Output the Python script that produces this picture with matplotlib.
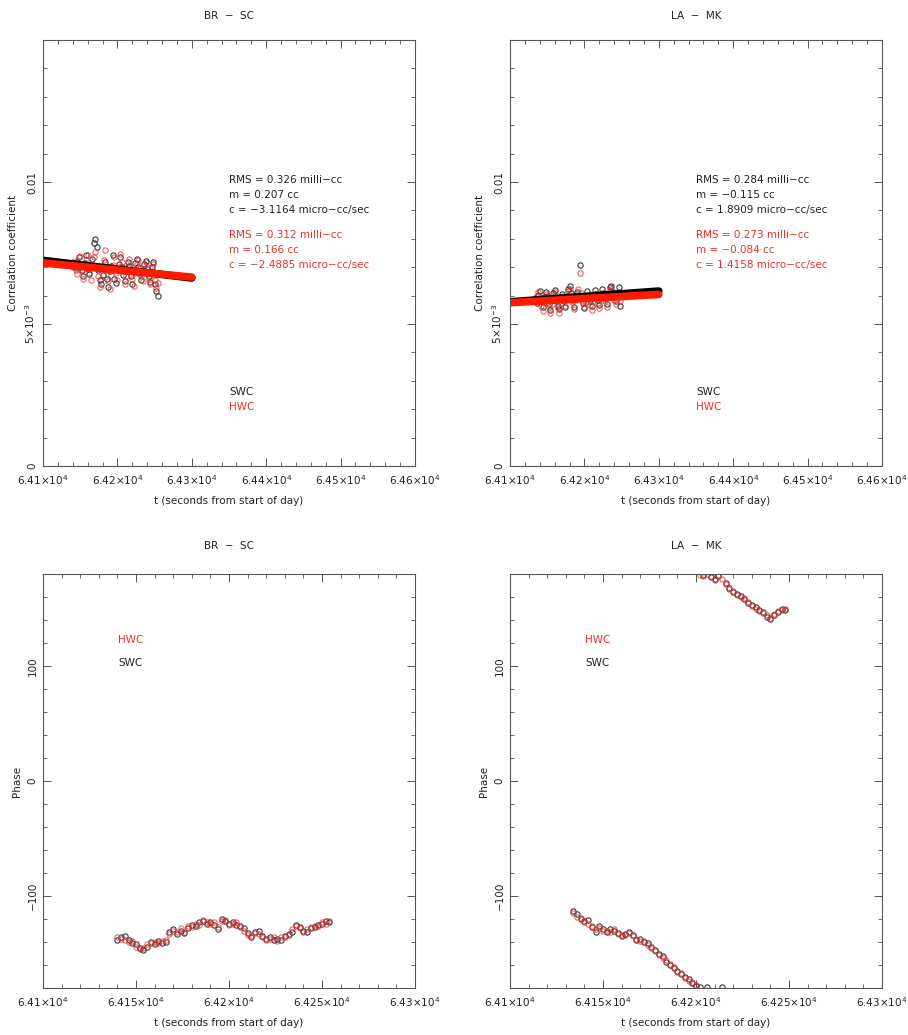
import numpy as np
import matplotlib
matplotlib.use("Agg")
import matplotlib.pyplot as plt
from matplotlib.ticker import MultipleLocator, FuncFormatter

# ---- data ----
baselines = ["BR  \u2212  SC", "LA  \u2212  MK"]

t_br = np.arange(64140, 64256, 2)   # BR-SC sample times (s)
t_lm = np.arange(64134, 64250, 2)   # LA-MK sample times (s)

amp_br_swc = [0.00712, 0.00705, 0.00698, 0.00720, 0.00735, 0.00702, 0.00690, 0.00668, 0.00715, 0.00742,
              0.00695, 0.00676, 0.00705, 0.00728, 0.00785, 0.00800, 0.00770, 0.00690, 0.00655, 0.00640,
              0.00672, 0.00700, 0.00718, 0.00658, 0.00630, 0.00688, 0.00705, 0.00742, 0.00660, 0.00645,
              0.00690, 0.00712, 0.00735, 0.00700, 0.00672, 0.00650, 0.00695, 0.00720, 0.00705, 0.00668,
              0.00640, 0.00688, 0.00715, 0.00728, 0.00700, 0.00675, 0.00655, 0.00690, 0.00712, 0.00722,
              0.00695, 0.00670, 0.00648, 0.00700, 0.00718, 0.00640, 0.00615, 0.00600]
amp_br_hwc = [0.00700, 0.00722, 0.00690, 0.00675, 0.00710, 0.00738, 0.00685, 0.00660, 0.00700, 0.00725,
              0.00742, 0.00680, 0.00655, 0.00700, 0.00735, 0.00752, 0.00705, 0.00670, 0.00632, 0.00660,
              0.00695, 0.00725, 0.00760, 0.00690, 0.00650, 0.00625, 0.00672, 0.00708, 0.00735, 0.00680,
              0.00655, 0.00700, 0.00748, 0.00720, 0.00688, 0.00642, 0.00670, 0.00705, 0.00730, 0.00692,
              0.00660, 0.00635, 0.00680, 0.00712, 0.00725, 0.00698, 0.00668, 0.00650, 0.00695, 0.00718,
              0.00700, 0.00662, 0.00640, 0.00688, 0.00710, 0.00655, 0.00628, 0.00645]
amp_lm_swc = [0.00590, 0.00575, 0.00602, 0.00615, 0.00580, 0.00560, 0.00595, 0.00612, 0.00600, 0.00570,
              0.00548, 0.00585, 0.00610, 0.00620, 0.00595, 0.00565, 0.00552, 0.00590, 0.00605, 0.00580,
              0.00560, 0.00600, 0.00625, 0.00635, 0.00610, 0.00585, 0.00560, 0.00598, 0.00612, 0.00590,
              0.00708, 0.00600, 0.00575, 0.00555, 0.00590, 0.00615, 0.00600, 0.00580, 0.00562, 0.00595,
              0.00618, 0.00605, 0.00585, 0.00568, 0.00600, 0.00625, 0.00610, 0.00590, 0.00572, 0.00605,
              0.00630, 0.00635, 0.00612, 0.00595, 0.00580, 0.00610, 0.00630, 0.00565]
amp_lm_hwc = [0.00580, 0.00600, 0.00612, 0.00588, 0.00565, 0.00545, 0.00578, 0.00605, 0.00595, 0.00560,
              0.00540, 0.00570, 0.00598, 0.00612, 0.00585, 0.00555, 0.00538, 0.00575, 0.00600, 0.00590,
              0.00565, 0.00590, 0.00615, 0.00625, 0.00600, 0.00578, 0.00552, 0.00585, 0.00605, 0.00625,
              0.00680, 0.00610, 0.00582, 0.00560, 0.00578, 0.00600, 0.00590, 0.00568, 0.00550, 0.00580,
              0.00605, 0.00598, 0.00575, 0.00555, 0.00585, 0.00610, 0.00600, 0.00580, 0.00560, 0.00595,
              0.00620, 0.00622, 0.00600, 0.00585, 0.00570, 0.00598, 0.00612, 0.00580]

ph_br_swc = [-138, -136, -135, -138, -141, -142, -145, -147, -144, -140, -142, -139, -141, -140,
             -131, -129, -133, -130, -132, -128, -125, -126, -123, -122, -124, -123, -125, -129,
             -120, -122, -124, -123, -125, -126, -128, -132, -136, -131, -130, -135, -137, -136,
             -138, -137, -138, -135, -133, -131, -125, -127, -130, -131, -128, -127, -125, -124,
             -122, -123]
ph_br_hwc = [-136, -137, -138, -140, -139, -144, -146, -145, -142, -141, -140, -141, -139, -138,
             -133, -130, -131, -128, -131, -126, -127, -124, -125, -121, -123, -124, -123, -127,
             -122, -121, -125, -124, -123, -127, -130, -134, -135, -132, -133, -136, -138, -137,
             -136, -139, -136, -136, -134, -129, -126, -128, -131, -129, -127, -126, -126, -123,
             -124, -122]
ph_lm_swc = [-113, -116, -120, -122, -121, -127, -131, -126, -129, -131, -129, -130, -132, -135,
             -133, -131, -134, -138, -137, -140, -141, -144, -147, -150, -152, -157, -160, -163,
             -165, -168, -170, -172, -176, -178, -179, 179, -179, 177, 176, 178, -179, 172,
             168, 164, 163, 161, 158, 155, 153, 151, 149, 147, 143, 141, 144, 147, 150, 149]
ph_lm_hwc = [-115, -118, -119, -123, -124, -126, -129, -128, -130, -130, -131, -129, -133, -134,
             -134, -132, -135, -137, -139, -139, -143, -145, -148, -151, -154, -156, -159, -162,
             -166, -167, -171, -174, -175, -177, 179, 178, 180, 178, 175, 179, 176, 171,
             167, 165, 162, 160, 159, 156, 152, 150, 148, 146, 144, 142, 145, 148, 149, 150]

# straight-line fits drawn in the top panels (start/end of 64100..64300)
fit_t = [64100, 64300]
fit_br_swc = [0.00724, 0.00662]
fit_br_hwc = [0.00715, 0.00665]
fit_lm_swc = [0.00578, 0.00616]
fit_lm_hwc = [0.00575, 0.00604]

stats_swc = [["RMS = 0.326 milli\u2212cc", "m = 0.207 cc", "c = \u22123.1164 micro\u2212cc/sec"],
             ["RMS = 0.284 milli\u2212cc", "m = \u22120.115 cc", "c = 1.8909 micro\u2212cc/sec"]]
stats_hwc = [["RMS = 0.312 milli\u2212cc", "m = 0.166 cc", "c = \u22122.4885 micro\u2212cc/sec"],
             ["RMS = 0.273 milli\u2212cc", "m = \u22120.084 cc", "c = 1.4158 micro\u2212cc/sec"]]

RED = "#e8302a"
DARK = "#3a3a3a"
FS = 7.5

plt.rcParams['font.family'] = ['DejaVu Sans']
plt.rcParams['axes.unicode_minus'] = True

fig = plt.figure(figsize=(9.08, 10.35), dpi=100)
W, H = 908.0, 1035.0


def xfmt(v, pos):
    s = "%g" % round(v / 1e4, 4)
    return s + "\u00d710$^4$"


def style(ax, xmaj, xmin, ymaj, ymin):
    ax.xaxis.set_major_locator(MultipleLocator(xmaj))
    ax.xaxis.set_minor_locator(MultipleLocator(xmin))
    ax.yaxis.set_major_locator(MultipleLocator(ymaj))
    ax.yaxis.set_minor_locator(MultipleLocator(ymin))
    ax.xaxis.set_major_formatter(FuncFormatter(xfmt))
    ax.tick_params(which='both', direction='in', top=True, right=True,
                   color='#555555', labelsize=FS, labelcolor='#222222')
    ax.tick_params(which='major', length=6, width=0.7)
    ax.tick_params(which='minor', length=3, width=0.6)
    ax.tick_params(axis='x', pad=5)
    ax.tick_params(axis='y', pad=4)
    for sp in ax.spines.values():
        sp.set_color('#555555')
        sp.set_linewidth(0.8)
    ax.set_xlabel("t (seconds from start of day)", fontsize=FS, color='#222222', labelpad=7)


def yfmt_amp(v, pos):
    if abs(v) < 1e-9:
        return "0"
    if abs(v - 0.005) < 1e-9:
        return "5\u00d710$^{\u22123}$"
    if abs(v - 0.01) < 1e-9:
        return "0.01"
    return ""


def yfmt_ph(v, pos):
    return ("%d" % v).replace("-", "\u2212")


lefts = [43 / W, 510 / W]
top_ax = []
bot_ax = []
for k in range(2):
    ax = fig.add_axes([lefts[k], (H - 466) / H, 372 / W, 426 / H])
    top_ax.append(ax)
    ax2 = fig.add_axes([lefts[k], (H - 988) / H, 372 / W, 414 / H])
    bot_ax.append(ax2)

amp_sets = [(t_br, amp_br_swc, amp_br_hwc, fit_br_swc, fit_br_hwc),
            (t_lm, amp_lm_swc, amp_lm_hwc, fit_lm_swc, fit_lm_hwc)]
ph_sets = [(t_br, ph_br_swc, ph_br_hwc), (t_lm, ph_lm_swc, ph_lm_hwc)]

mk = dict(marker='o', linestyle='none', markersize=3.8, markerfacecolor='none', markeredgewidth=0.8)

for k in range(2):
    ax = top_ax[k]
    t, a_s, a_h, f_s, f_h = amp_sets[k]
    ax.plot(t, a_s, color=DARK, **mk)
    ax.plot(t, a_h, color=RED, alpha=0.75, **mk)
    ax.plot(fit_t, f_s, color='black', lw=5.5, solid_capstyle='round')
    ax.plot(fit_t, f_h, color='#ff1a00', lw=5.5, solid_capstyle='round')
    ax.set_xlim(64100, 64600)
    ax.set_ylim(0, 0.015)
    style(ax, 100, 20, 0.005, 0.001)
    ax.yaxis.set_major_formatter(FuncFormatter(yfmt_amp))
    for lab in ax.get_yticklabels():
        lab.set_rotation(90)
        lab.set_va('center')
    ax.set_ylabel("Correlation coefficient", fontsize=FS, color='#222222', labelpad=4)
    ax.set_title(baselines[k], fontsize=FS, color='#222222', pad=15)
    ys = [0.671, 0.636, 0.601]
    for i, s in enumerate(stats_swc[k]):
        ax.text(0.5, ys[i], s, transform=ax.transAxes, fontsize=FS, color='#222222', va='center')
    ys = [0.542, 0.507, 0.472]
    for i, s in enumerate(stats_hwc[k]):
        ax.text(0.5, ys[i], s, transform=ax.transAxes, fontsize=FS, color=RED, va='center')
    ax.text(0.5, 0.174, "SWC", transform=ax.transAxes, fontsize=FS, color='#222222', va='center')
    ax.text(0.5, 0.139, "HWC", transform=ax.transAxes, fontsize=FS, color=RED, va='center')

    ax = bot_ax[k]
    t, p_s, p_h = ph_sets[k]
    ax.plot(t, p_s, color=DARK, **mk)
    ax.plot(t, p_h, color=RED, alpha=0.75, **mk)
    ax.set_xlim(64100, 64300)
    ax.set_ylim(-180, 180)
    style(ax, 50, 10, 100, 20)
    ax.yaxis.set_major_formatter(FuncFormatter(yfmt_ph))
    for lab in ax.get_yticklabels():
        lab.set_rotation(90)
        lab.set_va('center')
    ax.set_ylabel("Phase", fontsize=FS, color='#222222', labelpad=4)
    ax.set_title(baselines[k], fontsize=FS, color='#222222', pad=18)
    ax.text(0.2016, 0.841, "HWC", transform=ax.transAxes, fontsize=FS, color=RED, va='center')
    ax.text(0.2016, 0.785, "SWC", transform=ax.transAxes, fontsize=FS, color='#222222', va='center')

fig.savefig("out.png", dpi=100)
